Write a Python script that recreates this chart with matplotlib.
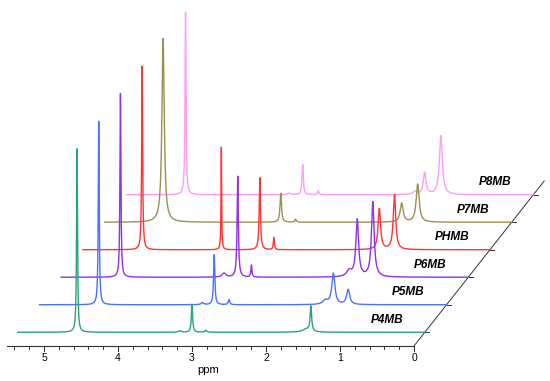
import numpy as np
import matplotlib
matplotlib.use("Agg")
import matplotlib.pyplot as plt

plt.rcParams['font.family'] = ['Liberation Sans', 'DejaVu Sans']

# ---- data: peak lists (ppm, height, half-width) for each spectrum ----
names = ["P4MB", "P5MB", "P6MB", "PHMB", "P7MB", "P8MB"]
colors = ["#2aa37c", "#4a72ff", "#9030e8", "#ff3535", "#9c9050", "#ff9cf5"]

p4mb_pos = [4.70, 3.31, 3.147, 2.96, 1.60, 1.54]
p4mb_h   = [184, 1.5, 28, 2, 3, 25]
p4mb_w   = [0.0075, 0.02, 0.010, 0.015, 0.06, 0.012]

p5mb_pos = [4.70, 3.30, 3.14, 2.94, 1.64, 1.53, 1.33]
p5mb_h   = [184, 2, 50, 5, 4, 31, 15]
p5mb_w   = [0.0075, 0.02, 0.010, 0.012, 0.04, 0.025, 0.025]

p6mb_pos = [4.70, 3.30, 3.115, 2.93, 1.61, 1.50, 1.29]
p6mb_h   = [184, 4, 101, 12, 6, 57, 75]
p6mb_w   = [0.0075, 0.03, 0.010, 0.008, 0.04, 0.022, 0.022]

phmb_pos = [4.70, 3.63, 3.11, 2.92, 1.495, 1.29]
phmb_h   = [184, 103, 72, 12, 41, 55]
phmb_w   = [0.0075, 0.005, 0.010, 0.008, 0.02, 0.02]

p7mb_pos = [4.71, 3.12, 2.92, 1.486, 1.27]
p7mb_h   = [184, 29, 3, 19, 38]
p7mb_w   = [0.019, 0.012, 0.012, 0.024, 0.024]

p8mb_pos = [4.70, 3.30, 3.117, 2.906, 1.60, 1.47, 1.25]
p8mb_h   = [183, 1.5, 30, 4, 3, 22, 59]
p8mb_w   = [0.008, 0.03, 0.010, 0.010, 0.03, 0.022, 0.024]

spectra = [
    (p4mb_pos, p4mb_h, p4mb_w),
    (p5mb_pos, p5mb_h, p5mb_w),
    (p6mb_pos, p6mb_h, p6mb_w),
    (phmb_pos, phmb_h, phmb_w),
    (p7mb_pos, p7mb_h, p7mb_w),
    (p8mb_pos, p8mb_h, p8mb_w),
]

major_ticks = [5, 4, 3, 2, 1, 0]
ppm_max, ppm_min = 5.5, 0.0

# ---- layout (offsets for the pseudo-3D stacking) ----
DX = 0.2932    # ppm shift per spectrum
DY = 27.5      # vertical shift per spectrum
Y0 = 35.0      # base axis level

fig = plt.figure(figsize=(5.5, 3.81), dpi=100)
ax = fig.add_axes([0, 0, 1, 1])
ax.set_xlim(414 / 74, (414 - 550) / 74)
ax.set_ylim(0, 381)
ax.axis("off")

x = np.linspace(ppm_max, ppm_min, 6000)

def spectrum(pos, h, w):
    y = np.zeros_like(x)
    for p, hh, ww in zip(pos, h, w):
        y += hh / (1 + ((x - p) / ww) ** 2)
    return y

for k, ((pos, h, w), name, c) in enumerate(zip(spectra, names, colors)):
    s = k + 0.5
    y = spectrum(pos, h, w)
    ax.plot(x - s * DX, y + Y0 + s * DY, color=c, lw=1.0, zorder=10 - k)
    # tick at the diagonal axis
    ax.plot([-s * DX, -s * DX - 0.06], [Y0 + s * DY] * 2, color="#333333", lw=0.7)
    ax.text(-s * DX + 0.515, Y0 + s * DY + 12.5, name, fontsize=8.5,
            fontweight="bold", fontstyle="italic", ha="center", va="center")

# base ppm axis
ax.plot([ppm_max, ppm_min], [Y0, Y0], color="#333333", lw=0.8)
for t in np.arange(0.2, 5.41, 0.2):
    t = round(t, 1)
    if abs(t - round(t)) < 1e-6:
        continue
    ax.plot([t, t], [Y0, Y0 - 3], color="#333333", lw=0.7)
for t in major_ticks:
    ax.plot([t, t], [Y0, Y0 - 5], color="#333333", lw=0.8)
    ax.text(t, Y0 - 12, str(t), fontsize=7.5, ha="center", va="center")
ax.text(2.78, Y0 - 24, "ppm", fontsize=8, ha="center", va="center")

# diagonal axis
ax.plot([0, -6 * DX], [Y0, Y0 + 6 * DY], color="#333333", lw=0.7)

fig.savefig("out.png", dpi=100)
